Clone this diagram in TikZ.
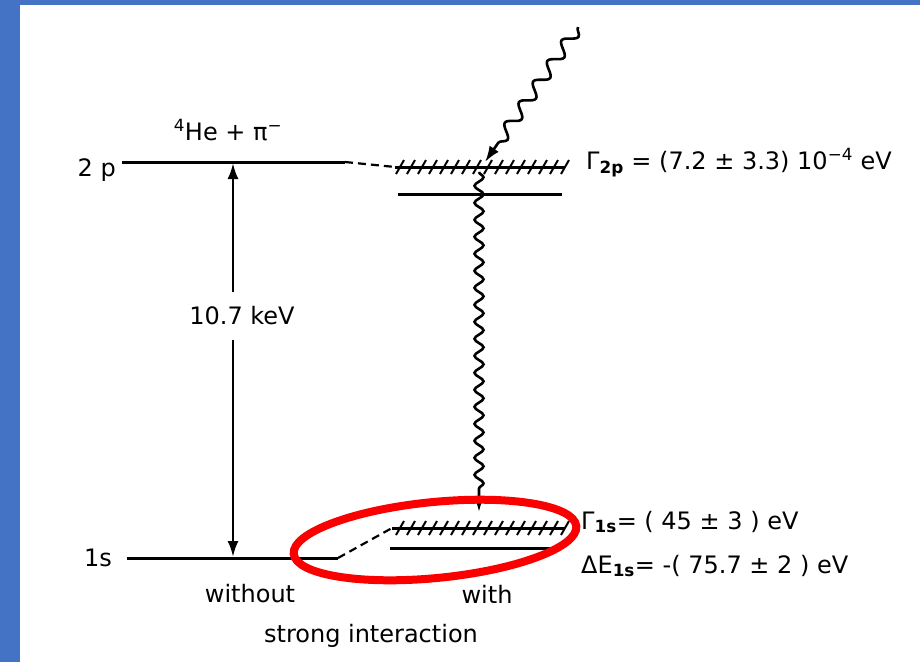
\documentclass[tikz,border=0pt]{standalone}
\usepackage{fontspec}
\setmainfont{DejaVu Sans}
\usetikzlibrary{arrows.meta,decorations.pathmorphing,calc}
\definecolor{slideblue}{RGB}{68,114,196}
\definecolor{markred}{RGB}{250,0,0}

\begin{document}
\begin{tikzpicture}[x=1pt, y=-1pt,
  font=\fontsize{24}{28}\selectfont,
  lvl/.style={line width=3pt},
  link/.style={line width=2.2pt, dash pattern=on 8pt off 5pt},
  hatch/.style={line width=2pt},
  arr/.style={line width=2.6pt, -{Latex[length=16pt,width=11pt]}},
  photon/.style={line width=2.6pt, -{Latex[length=16pt,width=11pt]}, decorate,
    decoration={snake, amplitude=4.5pt, segment length=17pt, post length=16pt}},
  txt/.style={inner sep=1pt}]
% slide frame
\fill[slideblue] (0,0) rectangle (20,662);
\fill[slideblue] (0,0) rectangle (920,5);
\useasboundingbox (0,0) rectangle (920,662);
% levels without strong interaction
\coordinate (p2a) at (122,162); \coordinate (p2b) at (345,162);
\coordinate (s1a) at (127,558); \coordinate (s1b) at (338,558);
\draw[lvl] (p2a) -- (p2b);
\draw[lvl] (s1a) -- (s1b);
% levels with strong interaction
\coordinate (w2a) at (395,167); \coordinate (w2b) at (565,167);
\coordinate (u2a) at (398,194); \coordinate (u2b) at (562,194);
\coordinate (w1a) at (392,528); \coordinate (w1b) at (565,528);
\coordinate (u1a) at (390,548); \coordinate (u1b) at (557,548);
\draw[lvl] (w2a) -- (w2b); \draw[lvl] (u2a) -- (u2b);
\draw[lvl] (w1a) -- (w1b); \draw[lvl] (u1a) -- (u1b);
% hatching = level width
\foreach \hx in {400,411,...,565} {
  \draw[hatch] (\hx-4,174) -- (\hx+4,160);
  \draw[hatch] (\hx-4,535) -- (\hx+4,521);
}
% dashed shifts
\draw[link] (p2b) -- (w2a);
\draw[link] (s1b) -- (w1a);
% transition energy
\coordinate (gTop) at (233,163); \coordinate (gBot) at (233,557);
\node[minimum height=48pt, inner sep=0pt] (gap) at (242,316) {10.7 keV};
\draw[arr] (gap.north -| gTop) -- (gTop);
\draw[arr] (gap.south -| gBot) -- (gBot);
% photons
\coordinate (inStart) at (578,27); \coordinate (inEnd) at (485,162);
\draw[photon, decoration={segment length=25pt, amplitude=6pt}] (inStart) -- (inEnd);
\coordinate (dStart) at (479,172); \coordinate (dEnd) at (479,512);
\draw[photon] (dStart) -- (dEnd);
% red mark
\draw[markred, line width=8pt, rotate around={5.6:(435,540)}] (435,540) ellipse [x radius=142, y radius=38];
% labels
\node[txt, anchor=east] (l2p) at (117,170) {2 p};
\node[txt, anchor=east] (l1s) at (113,558) {1s};
\node[txt] (atom) at (228,130) {\textsuperscript{4}He + π\textsuperscript{−}};
\node[txt] (wo) at (250,594) {without};
\node[txt] (wi) at (487,594) {with};
\node[txt] (si) at (371,636) {strong interaction};
\node[txt, anchor=west] (g2p) at (585,163) {Γ\textsubscript{\textbf{2p}} = (7.2 ± 3.3) 10\textsuperscript{−4} eV};
\node[txt, anchor=west] (g1s) at (580,522) {Γ\textsubscript{\textbf{1s}}= ( 45 ± 3 ) eV};
\node[txt, anchor=west] (de1s) at (580,566) {ΔE\textsubscript{\textbf{1s}}= -( 75.7 ± 2 ) eV};
\end{tikzpicture}
\end{document}
